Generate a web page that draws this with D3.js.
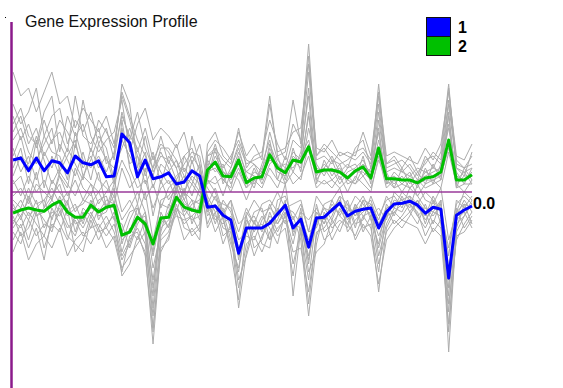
<!DOCTYPE html>
<html>
<head>
<meta charset="utf-8">
<script src="https://cdn.jsdelivr.net/npm/d3@7"></script>
<style>
  html, body { margin: 0; padding: 0; background: #ffffff; }
  svg { display: block; }
</style>
</head>
<body>
<svg id="chart" width="563" height="388"></svg>
<script>
// ---- data ----
const title = "Gene Expression Profile";
const clusterNames = ["1", "2"];
const zeroLabel = "0.0";
const conditions = d3.range(60); // 60 experimental conditions

// cluster mean profiles
const cluster1Mean = [0.80,0.85,0.53,0.85,0.53,0.78,0.73,0.48,0.90,0.73,
  0.68,0.78,0.38,0.40,1.45,1.23,0.38,0.80,0.33,0.38,
  0.48,0.20,0.25,0.53,0.40,-0.38,-0.35,-0.58,-0.70,-1.53,
  -0.90,-0.90,-0.90,-0.78,-0.55,-0.33,-0.90,-0.68,-1.38,-0.65,
  -0.63,-0.45,-0.28,-0.60,-0.48,-0.43,-0.40,-0.90,-0.50,-0.30,
  -0.28,-0.23,-0.33,-0.53,-0.38,-0.43,-2.15,-0.58,-0.45,-0.35];
const cluster2Mean = [-0.53,-0.45,-0.40,-0.45,-0.48,-0.33,-0.23,-0.50,-0.63,-0.63,
  -0.33,-0.50,-0.38,-0.33,-1.08,-1.00,-0.63,-0.80,-1.30,-0.65,
  -0.63,-0.13,-0.38,-0.45,-0.50,0.55,0.75,0.40,0.38,0.80,
  0.23,0.35,0.38,0.93,0.60,0.48,0.80,0.75,1.13,0.50,
  0.55,0.55,0.50,0.35,0.53,0.63,0.35,1.10,0.33,0.33,
  0.30,0.30,0.23,0.35,0.38,0.50,1.30,0.30,0.30,0.43];

// individual gene profiles (grey)
const gene01 = [3.0,2.4,2.6,2.0,2.5,3.0,2.2,2.4,1.6,2.1, 1.8,1.5,1.9,1.2,2.4,1.8,1.0,1.6,0.8,1.2,
  1.0,0.6,0.9,1.1,0.5,-0.6,-0.3,-0.9,-1.0,-2.4, -1.3,-1.1,-1.5,-1.0,-0.7,-0.2,-2.6,-0.9,-2.8,-1.0,
  -0.9,-0.6,-0.1,-1.0,-0.7,-0.5,-0.3,-1.6,-0.8,-0.4, -0.5,-0.1,-0.6,-0.9,-0.5,-0.6,-3.5,-1.0,-0.6,-0.3];
const gene02 = [1.5,1.9,1.2,1.6,0.9,1.3,1.5,1.0,2.4,1.4, 1.2,1.6,0.7,0.9,2.7,2.2,0.6,1.4,0.5,0.9,
  0.8,0.3,0.7,1.0,0.9,-0.2,-0.7,-0.5,-1.2,-2.0, -0.6,-1.4,-1.2,-0.5,-1.0,-0.6,-1.3,-0.4,-1.8,-0.3,
  -1.0,-0.8,-0.5,-0.3,-0.9,-0.2,-0.7,-1.3,-0.3,-0.6, -0.1,-0.5,-0.2,-0.8,-0.2,-0.8,-2.6,-0.4,-0.9,-0.6];
const gene03 = [0.6,1.1,0.2,1.3,0.1,0.9,0.4,0.1,1.2,0.6, 0.9,0.3,0.1,-0.1,1.8,0.6,0.1,0.3,-0.4,0.1,
  0.3,-0.2,0.0,0.4,0.2,-0.8,-0.3,-1.1,-0.9,-2.9, -1.5,-0.7,-1.3,-1.4,-0.4,-0.8,-0.6,-1.2,-3.1,-1.3,
  -0.5,-0.9,-0.7,-0.9,-0.3,-0.9,-0.8,-2.5,-0.9,-0.5, -0.7,-0.5,-0.8,-0.3,-0.8,-0.2,-4.0,-0.9,-0.3,-0.8];
const gene04 = [1.1,0.5,0.9,0.3,1.0,0.6,1.2,0.8,0.4,1.0, 0.3,1.2,0.8,0.6,1.1,1.6,0.9,0.5,1.0,0.2,
  0.9,0.6,-0.1,0.8,0.1,-0.2,-0.8,-0.2,-0.5,-1.2, -1.0,-0.5,-0.4,-1.2,-0.2,-0.1,-0.7,-0.3,-1.0,-0.9,
  -0.3,-0.2,-0.6,-0.2,-0.8,-0.7,-0.1,-0.6,-0.2,-0.1, -0.4,0.1,-0.1,-0.4,-0.6,-0.3,-1.6,-0.2,-0.4,-0.1];
const gene05 = [0.2,0.4,-0.2,0.5,-0.4,0.3,0.0,-0.3,0.6,0.1, -0.1,0.5,-0.4,0.2,0.8,0.4,-0.3,0.6,-0.6,0.3,
  -0.2,0.1,0.4,-0.1,0.5,0.1,-0.2,-0.3,-0.4,-1.0, -0.4,-0.8,-0.3,-0.2,-0.5,0.2,-1.1,-0.5,-0.7,-0.4,
  -0.8,-0.2,0.1,-0.5,-0.1,-0.3,-0.6,-0.4,-0.7,0.0, -0.2,-0.4,0.2,-0.2,-0.3,0.1,-1.2,-0.5,0.0,-0.2];
const gene06 = [1.9,1.3,1.7,1.1,1.8,1.2,1.8,1.5,1.1,2.3, 1.4,1.0,1.3,1.5,2.3,1.0,1.7,2.1,1.3,1.6,
  1.4,1.1,1.5,0.7,1.2,0.3,0.0,-0.6,-0.2,-1.7, -0.7,-1.0,-0.6,-0.9,-1.3,-0.5,-1.8,-1.0,-2.2,-0.6,
  -1.2,-1.0,-0.4,-0.8,-1.1,-0.6,-0.9,-2.0,-0.4,-0.8, -0.6,-0.3,-0.5,-1.1,-0.7,-0.9,-3.0,-0.7,-0.5,-0.9];
const gene07 = [0.4,0.9,0.7,1.4,0.8,0.2,0.6,1.1,0.7,0.3, 1.1,0.6,0.9,0.2,1.3,0.9,0.5,1.0,0.1,0.7,
  0.5,0.8,0.4,0.2,0.7,-0.5,-0.1,-0.7,-1.3,-1.9, -0.8,-0.6,-1.0,-0.6,-0.8,-0.4,-0.5,-0.8,-1.6,-0.8,
  -0.4,-0.7,-0.2,-0.7,-0.4,-0.1,-0.5,-1.1,-0.6,-0.2, -0.3,-0.2,-0.4,-0.6,-0.1,-0.5,-2.2,-0.6,-0.2,-0.5];
const gene08 = [1.3,1.6,1.0,0.7,1.4,1.0,0.9,0.3,1.5,0.8, 0.6,0.9,0.5,1.0,1.9,1.4,1.1,0.4,0.9,0.5,
  0.2,0.4,0.6,0.3,0.0,-0.4,-0.6,-0.8,-0.6,-1.4, -1.1,-1.2,-0.7,-0.4,-0.6,-0.3,-1.0,-0.6,-1.2,-0.5,
  -0.7,-0.4,-0.3,-0.4,-0.6,-0.4,-0.2,-0.8,-0.4,-0.3, -0.2,-0.1,-0.3,-0.7,-0.4,-0.3,-1.9,-0.8,-0.6,-0.2];
const gene09 = [-1.2,-0.8,-1.4,-0.9,-1.7,-0.6,-0.4,-1.1,-1.3,-1.5, -0.7,-1.2,-0.8,-0.6,-2.1,-1.8,-1.1,-1.5,-3.8,-1.4,
  -1.2,-0.3,-0.9,-1.0,-0.8,1.2,1.5,0.9,0.7,1.6, 0.6,0.9,1.0,1.8,1.2,0.8,1.7,1.3,3.7,0.9,
  1.2,1.0,0.8,0.6,1.1,1.3,0.6,2.7,0.7,0.8, 0.5,0.7,0.4,0.9,0.6,1.0,2.7,0.6,0.4,1.0];
const gene10 = [-0.3,-0.7,-0.1,-0.6,-0.4,-0.1,0.2,-0.5,-0.3,-0.8, -0.2,-0.6,-0.5,0.1,-1.3,-0.7,-0.3,-1.1,-2.6,-0.5,
  -0.9,0.2,-0.5,-0.2,-0.7,0.3,1.1,0.2,0.6,1.1, 0.4,0.1,0.7,1.3,0.3,0.9,0.5,1.0,2.4,0.2,
  0.8,0.4,0.7,0.2,0.3,0.9,0.2,1.8,0.5,0.1, 0.6,0.2,0.5,0.2,0.7,0.3,2.0,0.1,0.6,0.3];
const gene11 = [-0.8,-0.4,-0.7,-0.2,-0.9,-0.5,-0.6,-0.2,-1.0,-0.4, -0.6,-0.2,-0.1,-0.7,-0.8,-1.4,-0.8,-0.5,-1.9,-1.0,
  -0.3,-0.5,0.1,-0.8,-0.3,0.8,0.5,0.7,0.2,0.6, 0.1,0.6,0.2,0.7,0.9,0.3,1.1,0.5,1.6,0.7,
  0.4,0.8,0.3,0.6,0.7,0.4,0.6,1.5,0.2,0.5, 0.3,0.5,0.1,0.6,0.2,0.7,1.6,0.5,0.2,0.6];
const gene12 = [-0.1,0.1,-0.3,0.2,0.0,-0.2,0.4,-0.1,0.3,-0.2, 0.2,-0.3,0.0,0.3,-0.5,-0.2,-0.6,0.0,-1.2,-0.3,
  -0.4,0.3,-0.2,-0.5,0.1,0.2,0.4,-0.1,0.5,0.3, -0.2,0.3,0.5,0.4,0.1,0.6,0.2,0.4,0.9,0.1,
  0.3,0.1,0.4,0.0,0.4,0.2,0.0,0.9,0.1,0.3, 0.0,0.3,-0.1,0.2,0.3,0.1,1.0,0.2,0.0,0.3];
const gene13 = [-1.0,-1.3,-0.7,-1.1,-0.8,-0.9,-0.5,-0.9,-0.7,-1.1, -0.9,-0.8,-1.1,-0.8,-1.6,-1.2,-0.9,-1.3,-3.1,-1.1,
  -0.8,-0.6,-0.7,-0.6,-1.0,0.9,1.0,0.6,0.9,1.3, 0.8,0.7,0.5,1.5,0.8,0.6,1.3,1.1,3.0,0.8,
  0.9,0.7,1.0,0.9,0.8,1.0,0.7,2.2,0.6,0.7, 0.8,0.6,0.3,0.8,0.9,0.7,2.3,0.8,0.6,0.7];
const gene14 = [-0.5,-0.2,-0.6,-0.4,-0.2,-0.7,-0.1,-0.6,-0.4,-0.3, 0.0,-0.7,-0.3,-0.4,-1.0,-0.5,-0.4,-0.9,-2.2,-0.8,
  -0.5,0.0,-0.6,-0.3,-0.2,0.5,0.6,0.3,0.1,0.9, 0.3,0.2,0.6,1.0,0.5,0.4,0.9,0.7,1.9,0.6,
  0.5,0.6,0.2,0.5,0.6,0.8,0.4,1.3,0.4,0.2, 0.4,0.1,0.3,0.4,0.5,0.6,1.7,0.3,0.5,0.2];
const gene15 = [-0.7,-0.9,-0.5,-0.8,-1.1,-0.4,-0.8,-1.2,-0.6,-0.9, -0.5,-0.9,-0.6,-1.0,-1.7,-1.3,-0.7,-0.6,-1.6,-0.6,
  -0.9,-0.2,-0.4,-0.7,-0.6,0.4,0.9,0.5,0.3,0.7, 0.5,0.4,0.3,1.1,0.6,0.7,0.6,0.9,1.3,0.4,
  0.7,0.5,0.6,0.3,0.5,0.5,0.3,1.0,0.3,0.4, 0.2,0.4,0.2,0.5,0.4,0.4,1.1,0.4,0.3,0.5];
const gene16 = [-0.4,-0.6,-0.2,-0.6,-0.5,-0.2,-0.5,-0.3,-0.8,-0.7, -0.4,-0.5,-0.2,-0.3,-1.2,-1.0,-0.4,-0.8,-2.9,-0.7,
  -0.6,0.1,-0.3,-0.4,-0.5,0.7,0.7,0.3,0.5,0.8, 0.2,0.5,0.4,0.8,0.7,0.2,0.8,0.6,2.0,0.3,
  0.6,0.3,0.5,0.4,0.2,0.6,0.5,1.6,0.2,0.3, 0.3,0.3,0.2,0.3,0.3,0.4,1.9,0.2,0.4,0.4];
const gene17 = [2.2,1.7,2.0,2.6,1.4,1.9,2.1,1.2,1.8,1.5, 2.0,1.2,1.6,0.8,2.0,1.3,2.0,1.1,0.6,1.4,
  0.7,1.2,0.5,0.9,0.6,-0.1,-0.5,-1.3,-0.8,-2.2, -1.6,-0.9,-0.8,-1.2,-0.9,-0.7,-1.5,-1.4,-2.5,-1.1,
  -0.6,-1.2,-0.8,-0.6,-0.4,-1.0,-0.6,-1.8,-1.0,-0.7, -0.9,-0.6,-0.2,-0.5,-1.0,-0.7,-2.8,-1.2,-0.8,-0.5];
const gene18 = [0.9,1.4,0.6,0.8,1.2,1.6,0.5,0.9,1.3,0.4, 0.8,1.4,1.1,0.3,1.6,0.7,0.9,0.2,0.6,1.0,
  0.6,0.0,0.9,0.5,0.3,-0.9,-0.5,-0.4,-0.9,-1.6, -0.5,-0.8,-0.9,-0.3,-0.8,-0.5,-0.8,-0.9,-1.7,-0.5,
  -0.8,-0.3,-0.6,-0.8,-0.3,-0.6,-0.5,-1.4,-0.6,-0.5, -0.3,-0.3,-0.6,-0.4,-0.5,-0.2,-2.4,-0.5,-0.3,-0.4];
const gene19 = [0.3,-0.1,0.4,0.0,0.3,-0.2,0.5,0.2,-0.1,0.4, 0.2,0.0,0.3,-0.3,0.6,0.1,0.4,-0.2,0.2,-0.4,
  0.1,0.3,-0.2,0.2,-0.1,-0.3,0.1,-0.5,-0.2,-0.8, -0.6,-0.2,-0.5,-0.4,0.0,-0.4,-0.3,-0.2,-1.0,-0.1,
  -0.4,-0.5,-0.1,-0.3,-0.6,-0.2,-0.3,-0.7,-0.1,-0.4, 0.0,-0.2,-0.3,0.0,-0.2,-0.5,-1.4,-0.3,-0.1,-0.3];
const gene20 = [1.7,2.1,1.4,1.2,2.0,2.4,1.0,1.9,1.4,1.7, 1.0,1.8,1.5,1.1,2.5,1.9,1.3,0.9,0.4,1.1,
  1.1,0.8,0.2,1.4,0.7,-0.4,-1.0,-0.6,-1.5,-2.7, -0.9,-1.6,-1.1,-0.7,-1.1,-0.9,-2.1,-0.7,-2.0,-1.5,
  -1.3,-0.7,-1.0,-0.5,-1.2,-0.8,-1.1,-2.3,-1.2,-0.9, -0.7,-0.8,-0.9,-1.3,-0.9,-1.1,-3.3,-1.1,-1.0,-0.7];
const gene21 = [-1.5,-1.0,-1.7,-1.3,-1.1,-1.4,-0.9,-1.6,-1.2,-1.0, -1.3,-0.9,-1.4,-1.1,-1.9,-1.6,-1.3,-1.0,-3.4,-1.5,
  -1.1,-0.5,-1.2,-0.9,-1.2,1.0,1.3,1.1,0.8,1.5, 0.9,1.2,0.8,2.2,1.0,1.1,1.5,1.6,3.2,1.1,
  1.0,1.3,0.9,1.0,0.9,1.5,0.9,2.5,0.9,1.0, 0.9,0.8,0.7,1.1,0.8,1.2,2.5,0.9,0.8,1.2];
const gene22 = [-0.6,-1.1,-0.9,-0.4,-0.7,-1.0,-0.3,-0.8,-1.1,-0.5, -0.9,-0.4,-0.9,-0.5,-1.5,-0.9,-1.2,-0.7,-2.4,-0.9,
  -0.7,-0.4,-0.8,-0.6,-0.4,0.6,1.2,0.5,0.4,1.0, 0.5,0.7,0.3,1.2,0.7,0.5,1.0,0.8,2.6,0.5,
  0.6,0.9,0.5,0.7,0.5,0.7,0.5,2.0,0.5,0.6, 0.5,0.4,0.6,0.5,0.6,0.5,2.2,0.6,0.5,0.6];
const gene23 = [-0.2,-0.4,0.1,-0.3,-0.2,0.1,-0.3,0.0,-0.5,-0.2, -0.3,0.0,-0.4,-0.1,-0.7,-0.4,0.0,-0.5,-1.5,-0.2,
  -0.1,0.2,0.0,-0.2,-0.3,0.3,0.2,0.4,0.0,0.5, 0.1,0.3,0.1,0.6,0.3,0.2,0.5,0.3,1.2,0.3,
  0.2,0.3,0.1,0.3,0.2,0.4,0.1,0.8,0.3,0.1, 0.2,0.1,0.3,0.1,0.2,0.3,1.3,0.1,0.2,0.2];
const gene24 = [-0.9,-0.6,-1.2,-0.5,-1.4,-0.8,-1.0,-0.4,-1.5,-1.2, -0.6,-1.0,-0.9,-1.2,-2.0,-1.1,-1.0,-1.6,-3.5,-1.2,
  -1.0,-0.4,-0.6,-1.1,-0.9,0.9,1.1,0.8,0.6,1.2, 0.7,0.8,0.9,2.4,0.9,1.0,2.3,1.2,3.4,0.9,
  1.1,0.8,0.7,0.8,1.0,1.1,0.8,2.4,0.7,0.9, 0.6,0.9,0.5,0.7,1.0,0.8,2.6,0.7,0.6,0.9];

const genes = [gene01, gene02, gene03, gene04, gene05, gene06, gene07, gene08,
               gene09, gene10, gene11, gene12, gene13, gene14, gene15, gene16,
               gene17, gene18, gene19, gene20, gene21, gene22, gene23, gene24];
const means = [cluster1Mean, cluster2Mean];
const clusterColors = ["#0000ff", "#00c000"];

// ---- drawing ----
const svg = d3.select("#chart");
const x = d3.scaleLinear().domain([0, conditions.length - 1]).range([13, 472]);
const y = d3.scaleLinear().domain([-4.9, 4.3]).range([388, 20]);
const line = d3.line().x((d, i) => x(conditions[i])).y(d => y(d));

// grey gene profiles
svg.append("g")
  .selectAll("path")
  .data(genes)
  .join("path")
  .attr("d", line)
  .attr("fill", "none")
  .attr("stroke", "#acacac")
  .attr("stroke-width", 1);

// zero line
svg.append("line")
  .attr("x1", 12).attr("x2", x(conditions.length - 1))
  .attr("y1", y(0)).attr("y2", y(0))
  .attr("stroke", "#9a3a9a").attr("stroke-width", 1.3);

// vertical axis
svg.append("line")
  .attr("x1", 11.5).attr("x2", 11.5)
  .attr("y1", 22).attr("y2", 388)
  .attr("stroke", "#8b1a8b").attr("stroke-width", 2.5);

// cluster mean profiles (green under blue)
svg.append("g")
  .selectAll("path")
  .data([means[1], means[0]])
  .join("path")
  .attr("d", line)
  .attr("fill", "none")
  .attr("stroke", (d, i) => i === 0 ? clusterColors[1] : clusterColors[0])
  .attr("stroke-width", 3)
  .attr("stroke-linejoin", "round");

// zero label
svg.append("text")
  .attr("x", 473).attr("y", 209)
  .attr("font-family", "Liberation Sans, Arial, sans-serif")
  .attr("font-weight", "bold")
  .attr("font-size", 16)
  .attr("fill", "#000")
  .text(zeroLabel);

// title
svg.append("text")
  .attr("x", 25).attr("y", 27)
  .attr("font-family", "Liberation Sans, Arial, sans-serif")
  .attr("font-size", 16)
  .attr("fill", "#111")
  .text(title);

// small dot at top-left
svg.append("rect").attr("x", 5).attr("y", 17).attr("width", 1).attr("height", 1).attr("fill", "#000");

// legend
const legend = svg.append("g");
clusterNames.forEach((name, i) => {
  legend.append("rect")
    .attr("x", 426.5).attr("y", 17.5 + i * 19)
    .attr("width", 24).attr("height", 19)
    .attr("fill", clusterColors[i])
    .attr("stroke", "#111").attr("stroke-width", 1);
  legend.append("text")
    .attr("x", 458).attr("y", 33 + i * 19)
    .attr("font-family", "Liberation Sans, Arial, sans-serif")
    .attr("font-weight", "bold")
    .attr("font-size", 16)
    .attr("fill", "#000")
    .text(name);
});
</script>
</body>
</html>
